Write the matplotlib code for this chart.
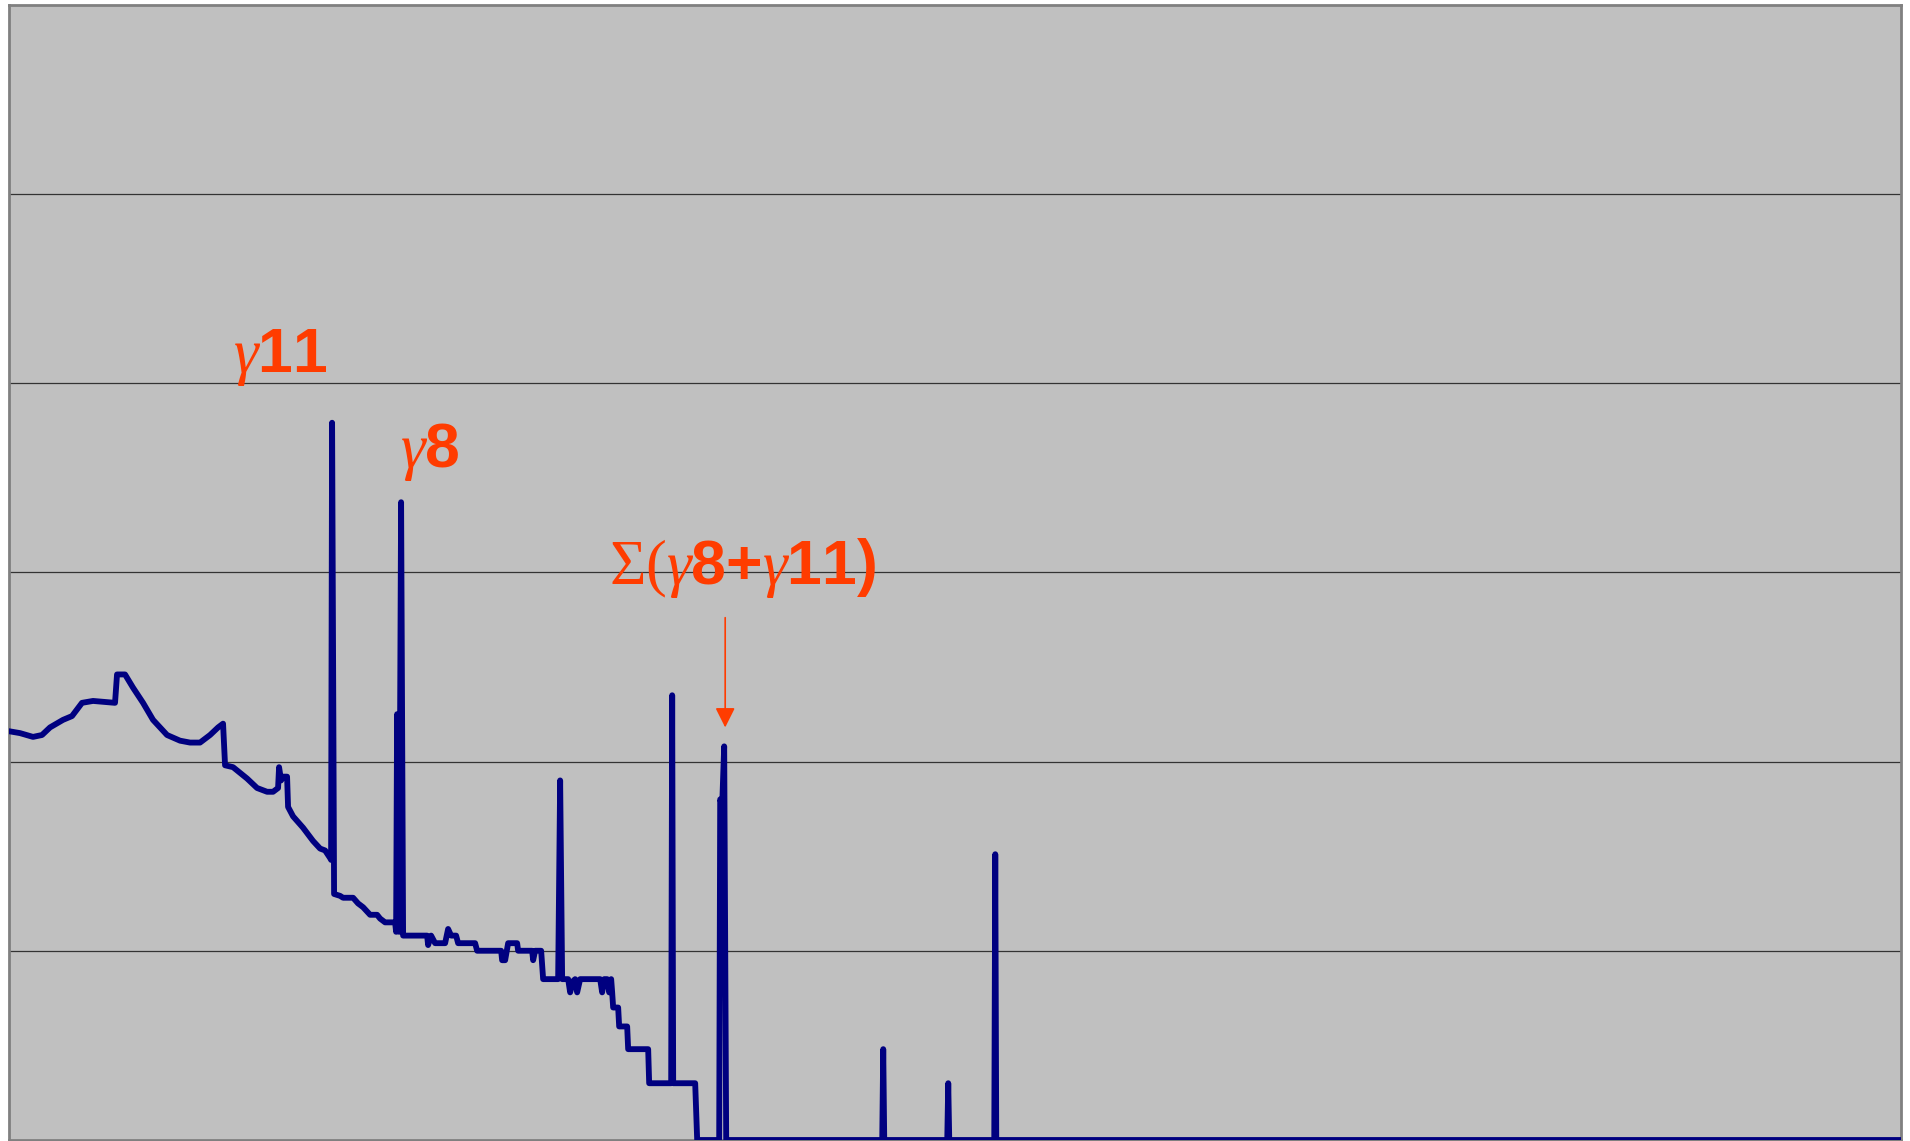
import matplotlib
matplotlib.use('Agg')
import numpy as np
from matplotlib import pyplot as plt

# 数式フォント: γ と Σ はセリフ体、数字は太字サンセリフ
plt.rcParams['mathtext.fontset'] = 'custom'
plt.rcParams['mathtext.rm'] = 'Liberation Sans:bold'
plt.rcParams['mathtext.it'] = 'Liberation Serif:italic'
plt.rcParams['mathtext.sf'] = 'Liberation Serif'

# スペクトル（チャンネル, 高さ[目盛単位]）
channel = [0, 11, 24, 33, 41, 54, 63, 73, 84, 106, 108, 116, 124, 134, 144, 158, 171, 181,
           191, 201, 209, 214, 216, 224, 238, 248, 258, 264, 269, 270, 272, 274, 278, 279,
           284, 294, 304, 311, 316, 321, 322, 323, 325,
           331, 334, 344, 349, 354, 361, 368, 371, 376, 386, 387, 388, 390, 392, 394,
           418, 419, 422, 426, 436, 439, 442, 447, 449, 466, 468, 492, 493, 496, 499, 508,
           509, 523, 524, 526, 532, 534, 549, 551, 553, 559, 561, 564, 566, 568, 571, 591,
           593, 595, 598, 600, 602, 603, 604, 609, 610, 618, 619, 639, 640, 662, 663, 664,
           686, 688,
           710, 711, 713, 715, 717, 873, 874, 875, 938, 939, 940, 985, 986, 987, 1891]
level = [2.16, 2.15, 2.13, 2.14, 2.18, 2.22, 2.24, 2.31, 2.32, 2.31, 2.46, 2.46, 2.39, 2.31,
         2.22, 2.14, 2.11, 2.10, 2.10, 2.14, 2.18, 2.20, 1.98, 1.97, 1.91, 1.86, 1.84, 1.84,
         1.86, 1.97, 1.90, 1.92, 1.92, 1.76, 1.71, 1.65, 1.58, 1.54, 1.53, 1.49, 1.48, 3.79,
         1.30,
         1.29, 1.28, 1.28, 1.25, 1.23, 1.19, 1.19, 1.17, 1.15, 1.15, 1.10, 2.25, 1.10, 3.37,
         1.08,
         1.08, 1.03, 1.08, 1.04, 1.04, 1.115, 1.08, 1.08, 1.04, 1.04, 1.00, 1.00, 0.95, 0.95,
         1.04, 1.04, 1.00, 1.00, 0.95, 1.00, 1.00, 0.85, 0.85, 1.90, 0.85, 0.85, 0.78, 0.84,
         0.85, 0.78, 0.85, 0.85, 0.78, 0.85, 0.85, 0.78, 0.85, 0.78, 0.70, 0.70, 0.60, 0.60,
         0.48, 0.48, 0.30, 0.30, 2.35, 0.30,
         0.30, 0.0,
         0.0, 1.80, 1.77, 2.08, 0.0, 0.0, 0.48, 0.0, 0.0, 0.30, 0.0, 0.0, 1.51, 0.0, 0.0]

# ピーク名
labels = [r'$\gamma11$', r'$\gamma8$', r'$\mathsf{\Sigma(}\gamma8{+}\gamma11)$']
label_x = [224, 391, 600]
label_y = [4.06, 3.555, 2.94]
arrow_x = 716
arrow_from, arrow_to = 2.76, 2.18

red = '#FF3C00'

fig = plt.figure(figsize=(19.10, 11.41), dpi=100)
ax = fig.add_axes([9 / 1910, 1 / 1141, 1891.5 / 1910, 1135.5 / 1141])
ax.set_facecolor('#C0C0C0')
ax.plot(channel, level, color='#000080', lw=4.2, solid_joinstyle='round', zorder=3)

ax.set_xlim(0, 1891)
ax.set_ylim(0, 6)
ax.set_yticks(range(1, 6))
ax.set_xticks([])
ax.tick_params(left=False, labelleft=False)
ax.grid(axis='y', color='#333333', lw=0.9)
for s in ax.spines.values():
    s.set_color('#808080')
    s.set_linewidth(2)

for txt, x, y in zip(labels, label_x, label_y):
    ax.text(x, y, txt, color=red, fontsize=45, ha='left', va='baseline', zorder=4)

ax.annotate('', xy=(arrow_x, arrow_to), xytext=(arrow_x, arrow_from),
            arrowprops=dict(arrowstyle='-|>,head_length=0.6,head_width=0.3',
                            color=red, lw=1.2, mutation_scale=20,
                            shrinkA=0, shrinkB=0))

fig.savefig('out.png', dpi=100)
